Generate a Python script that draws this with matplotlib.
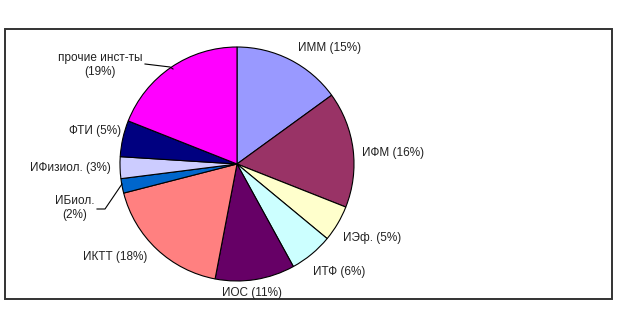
import matplotlib.pyplot as plt
from matplotlib.patches import Rectangle

plt.rcParams['font.family'] = ['Liberation Sans', 'DejaVu Sans']

institutes = ["ИММ", "ИФМ", "ИЭф.", "ИТФ", "ИОС", "ИКТТ", "ИБиол.", "ИФизиол.", "ФТИ", "прочие инст-ты"]
shares = [15, 16, 5, 6, 11, 18, 2, 3, 5, 19]
colors = ["#9999FF", "#993366", "#FFFFCC", "#CCFFFF", "#660066",
          "#FF8080", "#0066CC", "#CCCCFF", "#000080", "#FF00FF"]

# label text and where it sits (pixel coords, y from top)
label_text = ["ИММ (15%)", "ИФМ (16%)", "ИЭф. (5%)", "ИТФ (6%)", "ИОС (11%)",
              "ИКТТ (18%)", "ИБиол.\n(2%)", "ИФизиол. (3%)", "ФТИ (5%)", "прочие инст-ты\n(19%)"]
label_pos = [(330, 48), (393, 153), (372, 238), (339, 272), (252, 293),
             (115, 257), (75, 208), (70, 168), (95, 131), (100, 65)]

W, H = 630, 315
fig = plt.figure(figsize=(6.3, 3.15), dpi=100)
ax = fig.add_axes([0, 0, 1, 1])

ax.add_patch(Rectangle((5, H - 299), 607, 270, fill=False, edgecolor="#333333", linewidth=1.4))

ax.pie(shares, colors=colors, startangle=90, counterclock=False,
       center=(237, H - 164), radius=117, frame=True,
       wedgeprops=dict(edgecolor="black", linewidth=0.8))
ax.set_xlim(0, W)
ax.set_ylim(0, H)
ax.set_aspect("auto")
ax.axis("off")

for txt, (x, y) in zip(label_text, label_pos):
    ax.text(x, H - y, txt, ha="center", va="center", fontsize=8.5,
            color="#222222", linespacing=1.3)

# leader lines
ax.plot([145, 170, 173], [H - 64, H - 67, H - 69], color="black", linewidth=0.8)
ax.plot([97, 105, 122], [H - 209, H - 209, H - 184], color="black", linewidth=0.8)

fig.savefig("out.png", dpi=100)
